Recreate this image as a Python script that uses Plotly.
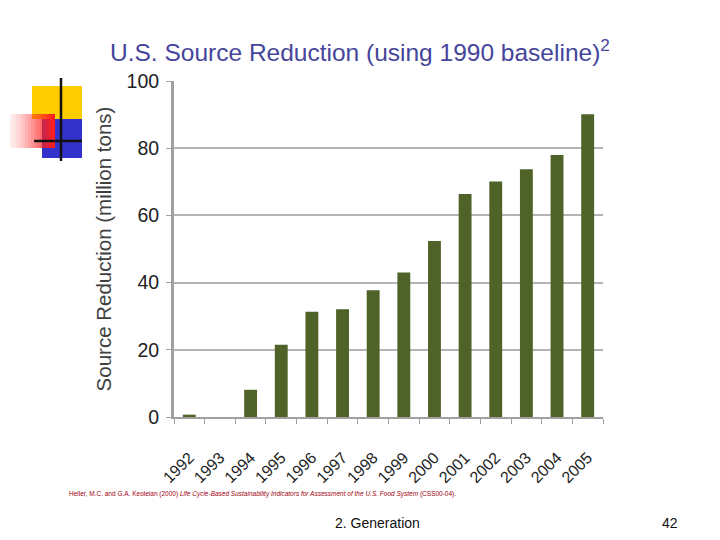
import plotly.graph_objects as go

years = ['1992', '1993', '1994', '1995', '1996', '1997', '1998',
         '1999', '2000', '2001', '2002', '2003', '2004', '2005']
reduction = [0.7, 0.0, 8.1, 21.5, 31.3, 32.1, 37.7,
             43.0, 52.4, 66.4, 70.1, 73.7, 78.0, 90.1]
y_ticks = [0, 20, 40, 60, 80, 100]

# page body has an 8px margin, so the figure is laid out 8px smaller
OFF = 8
W, H = 720 - OFF, 540 - OFF
ML, MR, MT, MB = 174 - OFF, 117, 81 - OFF, 123
PW, PH = W - ML - MR, H - MT - MB


def px(x):
    # window pixel -> paper x
    return (x - OFF - ML) / PW


def py(y):
    # window pixel -> paper y
    return (H - MB - (y - OFF)) / PH


fig = go.Figure()

fig.add_trace(go.Bar(
    x=years,
    y=reduction,
    marker_color='#4f6228',
    marker_line_width=0,
))

fig.update_layout(
    width=W,
    height=H,
    margin=dict(l=ML, r=MR, t=MT, b=MB),
    paper_bgcolor='white',
    plot_bgcolor='white',
    showlegend=False,
    bargap=0.58,
    font=dict(family='Liberation Sans, Arial, sans-serif', color='#222222'),
)

fig.update_xaxes(
    type='category',
    tickson='boundaries',
    ticks='outside',
    ticklen=5,
    tickcolor='#a0a0a0',
    tickangle=-45,
    ticklabelstandoff=23,
    tickfont=dict(size=16, color='#222222'),
    showline=True,
    linecolor='#a0a0a0',
    linewidth=2,
    showgrid=False,
)

fig.update_yaxes(
    range=[0, 100],
    tickvals=y_ticks,
    ticks='outside',
    ticklen=5,
    tickcolor='#a0a0a0',
    ticklabelstandoff=3,
    tickfont=dict(size=19.5, color='#222222'),
    showline=True,
    linecolor='#a0a0a0',
    linewidth=3,
    showgrid=True,
    gridcolor='#b4b4b4',
    gridwidth=1.5,
    zeroline=False,
    title=dict(text='Source Reduction (million tons)',
               font=dict(size=20.5, color='#404040'), standoff=10),
)

# title
fig.add_annotation(
    x=px(360), y=py(50), xref='paper', yref='paper',
    text='U.S. Source Reduction (using 1990 baseline)<sup>2</sup>',
    showarrow=False, xanchor='center', yanchor='middle',
    font=dict(size=24.5, color='#45459a'),
)

# citation
fig.add_annotation(
    x=px(67), y=py(494), xref='paper', yref='paper',
    text='Heller, M.C. and G.A. Keoleian (2000) '
         '<i>Life Cycle-Based Sustainability Indicators for Assessment of the U.S. Food System</i>'
         ' (CSS00-04).',
    showarrow=False, xanchor='left', yanchor='middle',
    font=dict(size=6.5, color='#a00010'),
)

# footer
fig.add_annotation(
    x=px(377), y=py(523), xref='paper', yref='paper',
    text='2. Generation', showarrow=False,
    xanchor='center', yanchor='middle',
    font=dict(size=14, color='#111111'),
)
fig.add_annotation(
    x=px(670), y=py(523), xref='paper', yref='paper',
    text='42', showarrow=False,
    xanchor='center', yanchor='middle',
    font=dict(size=14, color='#111111'),
)

# slide logo
shapes = []
shapes.append(dict(type='rect', xref='paper', yref='paper',
                   x0=px(32), x1=px(82), y0=py(86), y1=py(119),
                   fillcolor='#ffcc00', line_width=0))
shapes.append(dict(type='rect', xref='paper', yref='paper',
                   x0=px(42), x1=px(82), y0=py(119), y1=py(158),
                   fillcolor='#3333cc', line_width=0))
steps = 15
for i in range(steps):
    a = (i + 1) / steps
    shapes.append(dict(type='rect', xref='paper', yref='paper',
                       x0=px(10 + 45 * i / steps), x1=px(10 + 45 * (i + 1) / steps),
                       y0=py(114), y1=py(148),
                       fillcolor='rgba(255,30,30,%.2f)' % (0.05 + 0.95 * a ** 1.3),
                       line_width=0))
shapes.append(dict(type='line', xref='paper', yref='paper',
                   x0=px(61), x1=px(61), y0=py(78), y1=py(161),
                   line=dict(color='#111111', width=2.5)))
shapes.append(dict(type='line', xref='paper', yref='paper',
                   x0=px(34), x1=px(82), y0=py(141), y1=py(141),
                   line=dict(color='#111111', width=2.5)))
fig.update_layout(shapes=shapes)

fig.write_html('out.html')
